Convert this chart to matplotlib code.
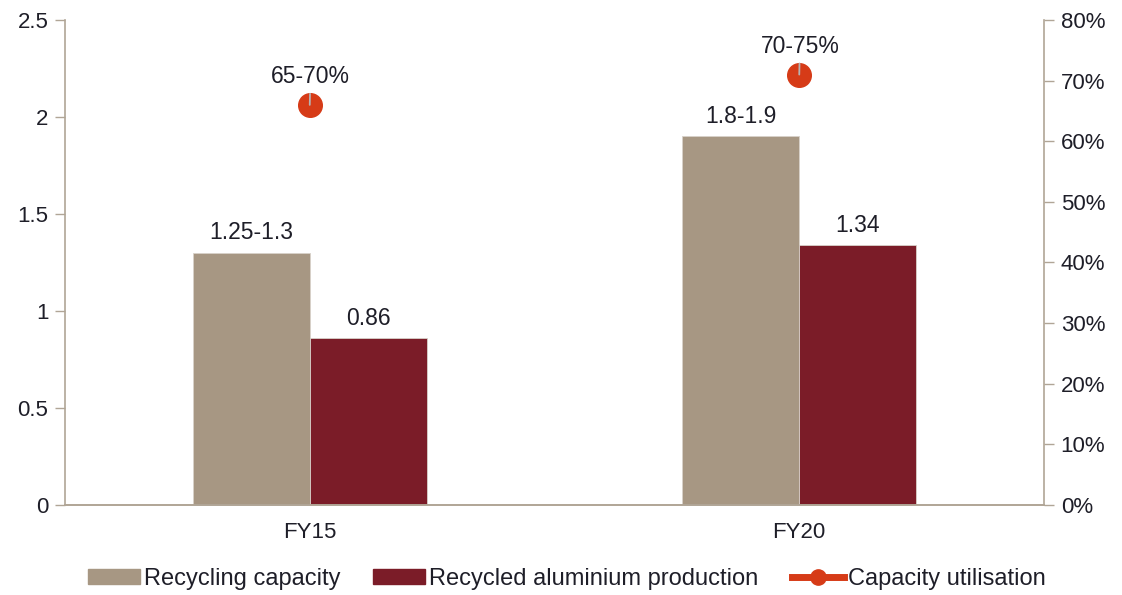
import matplotlib
matplotlib.use("Agg")
import matplotlib.pyplot as plt
import numpy as np
from matplotlib.patches import Patch
from matplotlib.lines import Line2D

categories = ["FY15", "FY20"]
capacity = [1.3, 1.9]
capacity_labels = ["1.25-1.3", "1.8-1.9"]
production = [0.86, 1.34]
production_labels = ["0.86", "1.34"]
utilisation = [66, 71]
utilisation_labels = ["65-70%", "70-75%"]

plt.rcParams['font.family'] = ['Liberation Sans', 'DejaVu Sans']

cap_color = "#A79783"
prod_color = "#7B1C28"
util_color = "#D63B17"
spine_color = "#B0A596"
text_color = "#1E1E28"

fig = plt.figure(figsize=(11.22, 5.95), dpi=100)
ax = fig.add_axes([65/1122, 1-505/595, (1044-65)/1122, (505-20)/595])
ax2 = ax.twinx()

x = np.arange(len(categories))
w = 0.239
b1 = ax.bar(x - w/2, capacity, w, color=cap_color, edgecolor="#D8D2CA", linewidth=0.6, zorder=2)
b2 = ax.bar(x + w/2, production, w, color=prod_color, edgecolor="#D8D2CA", linewidth=0.6, zorder=2)

for rect, lab in zip(b1, capacity_labels):
    ax.annotate(lab, (rect.get_x() + rect.get_width()/2, rect.get_height()),
                xytext=(0, 6), textcoords="offset points", ha="center", va="bottom",
                fontsize=16.5, color=text_color)
for rect, lab in zip(b2, production_labels):
    ax.annotate(lab, (rect.get_x() + rect.get_width()/2, rect.get_height()),
                xytext=(0, 6), textcoords="offset points", ha="center", va="bottom",
                fontsize=16.5, color=text_color)

ax.set_xlim(-0.5, 1.5)
ax.set_ylim(0, 2.5)
ax.set_yticks([0, 0.5, 1, 1.5, 2, 2.5])
ax.set_yticklabels(["0", "0.5", "1", "1.5", "2", "2.5"])
ax.set_xticks(x)
ax.set_xticklabels(categories)

ax2.set_ylim(0, 80)
ax2.set_yticks(range(0, 81, 10))
ax2.set_yticklabels([f"{v}%" for v in range(0, 81, 10)])

ax2.plot(x, utilisation, linestyle="none", marker="o", markersize=17,
         color=util_color, zorder=5)
for xi, yi, lab in zip(x, utilisation, utilisation_labels):
    ax2.annotate(lab, (xi, yi), xytext=(0.5, 12), textcoords="offset points",
                 ha="center", va="bottom", fontsize=16.5, color=text_color, zorder=7,
                 arrowprops=dict(arrowstyle="-", color="#B4B4B4", lw=1.3,
                                 shrinkA=2, shrinkB=0))

for a in (ax, ax2):
    a.spines["top"].set_visible(False)
    for s in ["left", "right", "bottom"]:
        a.spines[s].set_color(spine_color)
        a.spines[s].set_linewidth(1.2)
    a.set_facecolor("none")

ax.spines["right"].set_visible(False)
ax2.spines["left"].set_visible(False)
ax.tick_params(axis="y", length=7, width=1, color=spine_color, labelsize=16,
               labelcolor=text_color, pad=5)
ax.tick_params(axis="x", length=0, labelsize=16, labelcolor=text_color, pad=12)
ax2.tick_params(axis="y", length=7, width=1, color=spine_color, labelsize=16,
                labelcolor=text_color, pad=5)

handles = [Patch(color=cap_color), Patch(color=prod_color),
           Line2D([0], [0], color=util_color, lw=5, marker="o", markersize=11)]
labels = ["Recycling capacity", "Recycled aluminium production", "Capacity utilisation"]
fig.legend(handles, labels, loc="center", bbox_to_anchor=(0.505, 1-579/595), ncol=3,
           frameon=False, fontsize=17, handlelength=2.2, handleheight=0.6,
           handletextpad=0.17, columnspacing=1.4, labelcolor=text_color)

fig.savefig("out.png", dpi=100)
